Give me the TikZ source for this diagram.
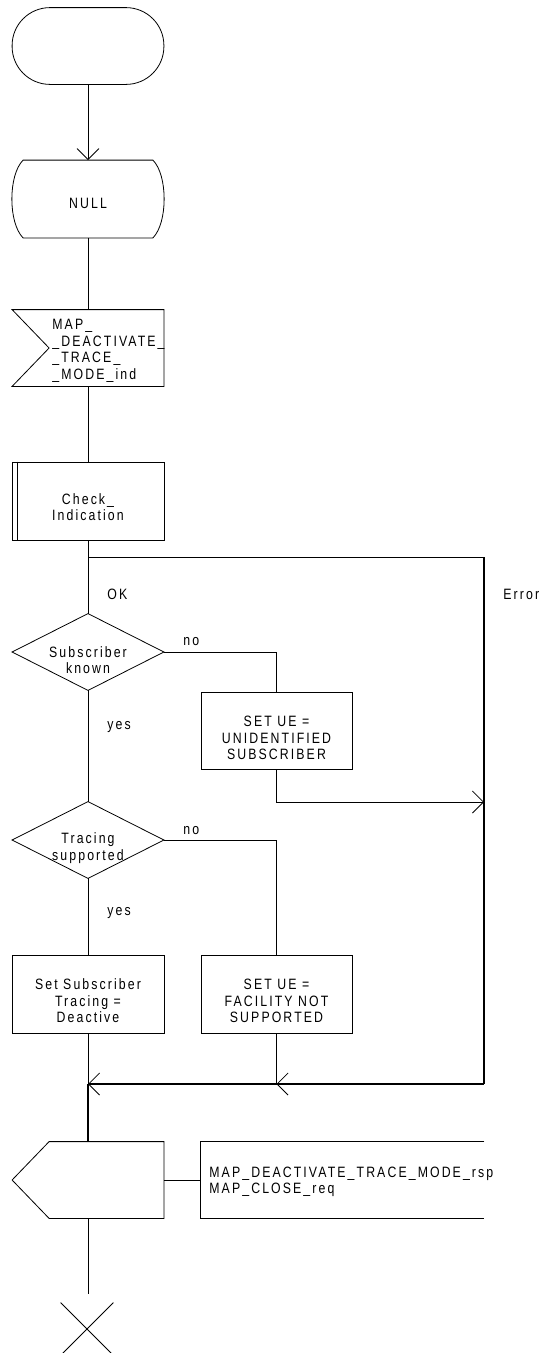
\documentclass[tikz,border=0pt]{standalone}
\usepackage{fontspec}
\setmainfont{Liberation Sans}[FakeStretch=0.82,LetterSpace=14]
\usetikzlibrary{arrows.meta}
\newcommand\sdlfont{\fontsize{15}{16.5}\selectfont}
\tikzset{
  shapebox/.style={draw=none, inner sep=0pt},
  lbl/.style={font=\sdlfont, inner sep=0pt, align=center},
  arr/.style={-{Straight Barb[length=11pt,width=22pt,line width=0.8pt]}},
  heavy/.style={line width=1.6pt}
}
\begin{document}
\begin{tikzpicture}[x=1pt,y=-1pt,line width=0.8pt]
\useasboundingbox (0,0) rectangle (540,1353);
\clip (0,0) rectangle (540,1353);

% start
\node[shapebox, minimum width=151pt, minimum height=76pt] (start) at (88,46) {};
\draw[rounded corners=37.9pt] (start.south west) rectangle (start.north east);

% NULL state
\node[shapebox, minimum width=151pt, minimum height=77pt] (null) at (88,199) {};
\draw ([xshift=11pt]null.north west) -- ([xshift=-11pt]null.north east)
  .. controls ([xshift=4pt,yshift=-15pt]null.north east) and ([xshift=4pt,yshift=15pt]null.south east) .. ([xshift=-11pt]null.south east)
  -- ([xshift=11pt]null.south west)
  .. controls ([xshift=-4pt,yshift=15pt]null.south west) and ([xshift=-4pt,yshift=-15pt]null.north west) .. cycle;
\node[lbl] (nullt) at (88,203) {NULL};

% input signal
\node[shapebox, minimum width=151pt, minimum height=76pt] (inp) at (88,348) {};
\draw (inp.north west) -- (inp.north east) -- (inp.south east) -- (inp.south west) -- ([xshift=37pt]inp.west) -- cycle;
\node[lbl, anchor=west, align=left] (inpt) at (52,351) {MAP\_\\\_DEACTIVATE\_\\\_TRACE\_\\\_MODE\_ind};

% procedure call
\node[draw, minimum width=152pt, minimum height=78pt, inner sep=0pt] (check) at (88,501) {};
\draw ([xshift=6pt]check.north west) -- ([xshift=6pt]check.south west);
\node[lbl] (checkt) at (88,507) {Check\_\\Indication};

% decision 1
\node[shapebox, minimum width=151pt, minimum height=76pt] (d1) at (88,652) {};
\draw (d1.west) -- (d1.north) -- (d1.east) -- (d1.south) -- cycle;
\node[lbl] (d1t) at (88,660) {Subscriber\\known};

% box unidentified
\node[draw, minimum width=151pt, minimum height=77pt, inner sep=0pt] (b1) at (276.5,730.5) {};
\node[lbl] (b1t) at (276.5,738) {SET UE =\\UNIDENTIFIED\\SUBSCRIBER};

% decision 2
\node[shapebox, minimum width=151pt, minimum height=76pt] (d2) at (88,840) {};
\draw (d2.west) -- (d2.north) -- (d2.east) -- (d2.south) -- cycle;
\node[lbl] (d2t) at (88,848) {Tracing\\supported};

% tasks
\node[draw, minimum width=152pt, minimum height=78pt, inner sep=0pt] (b2) at (88,994) {};
\node[lbl] (b2t) at (88,1001) {Set Subscriber\\Tracing =\\Deactive};
\node[draw, minimum width=151pt, minimum height=78pt, inner sep=0pt] (b3) at (276.5,994) {};
\node[lbl] (b3t) at (276.5,1001) {SET UE =\\FACILITY NOT\\SUPPORTED};

% output
\node[shapebox, minimum width=151pt, minimum height=76pt] (out) at (88,1180) {};
\draw (out.north east) -- (out.south east) -- ([xshift=37pt]out.south west) -- (out.west) -- ([xshift=37pt]out.north west) -- cycle;

% comment
\node[shapebox, minimum width=283pt, minimum height=76pt] (cm) at (342.5,1180) {};
\draw (cm.north east) -- (cm.north west) -- (cm.south west) -- (cm.south east);
\node[lbl, anchor=west, align=left] (cmt) at (209,1182) {MAP\_DEACTIVATE\_TRACE\_MODE\_rsp\\MAP\_CLOSE\_req};

% stop
\node[shapebox, minimum width=52pt, minimum height=52pt] (stop) at (87,1329) {};
\draw (stop.north west) -- (stop.south east) (stop.north east) -- (stop.south west);

% labels
\node[lbl, anchor=west] (ok) at (107,594) {OK};
\node[lbl, anchor=west] (err) at (503,594) {Error};
\node[lbl, anchor=west] (no1) at (183,642) {no};
\node[lbl, anchor=west] (yes1) at (107,727) {yes};
\node[lbl, anchor=west] (no2) at (183,831) {no};
\node[lbl, anchor=west] (yes2) at (107,913) {yes};

% coordinates
\coordinate (eb) at (88,557);
\coordinate (ec) at (484,557);
\coordinate (ed) at (484,1084);
\coordinate (j1) at (484,802);
\coordinate (m2) at (276.5,1084);
\coordinate (m1) at (88,1084);
\coordinate (stoptop) at (88,1294);

% connectors
\draw[arr] (start.south) -- (null.north);
\draw (null.south) -- (inp.north);
\draw (inp.south) -- (check.north);
\draw (check.south) -- (d1.north);
\draw (eb) -- (ec);
\draw[heavy] (ec) -- (ed);
\draw (d1.east) -| (b1.north);
\draw[arr] (b1.south) |- (j1);
\draw (d1.south) -- (d2.north);
\draw (d2.east) -| (b3.north);
\draw (d2.south) -- (b2.north);
\draw (b2.south) -- (m1);
\draw (b3.south) -- (m2);
\draw[heavy, arr] (ed) -- (m2);
\draw[heavy, arr] (m2) -- (m1);
\draw[heavy] (m1) -- (out.north);
\draw (out.east) -- (cm.west);
\draw (out.south) -- (stoptop);
\end{tikzpicture}
\end{document}
